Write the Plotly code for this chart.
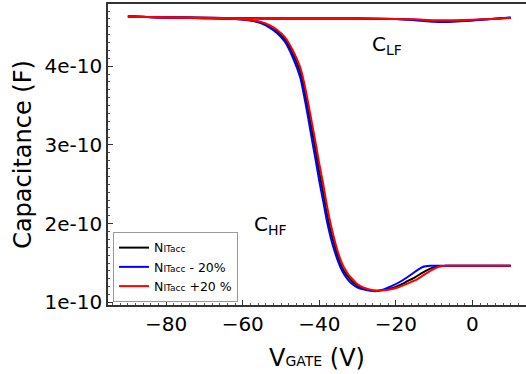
import plotly.graph_objects as go

# Gate voltage (V) and capacitance (units of 1e-10 F, scaled below)
x_hf = [-90, -80, -70, -62, -58, -55, -53, -51, -49, -47, -45, -44, -43, -42, -41, -40,
        -39, -38, -37, -36, -35, -34, -33, -32, -31, -30, -28, -26, -25, -23, -21, -19,
        -17, -15, -13, -11, -9, -7, -5, 0, 5, 10]
hf_nom = [4.63, 4.62, 4.61, 4.60, 4.585, 4.55, 4.50, 4.44, 4.34, 4.17, 3.93, 3.72, 3.47, 3.20,
          2.94, 2.65, 2.40, 2.12, 1.90, 1.72, 1.56, 1.44, 1.36, 1.30, 1.25, 1.21, 1.17, 1.15,
          1.148, 1.16, 1.18, 1.22, 1.27, 1.32, 1.38, 1.43, 1.46, 1.465, 1.465, 1.465, 1.465, 1.465]
hf_minus = [4.63, 4.62, 4.61, 4.60, 4.58, 4.54, 4.49, 4.42, 4.31, 4.12, 3.86, 3.63, 3.37, 3.09,
            2.82, 2.54, 2.29, 2.03, 1.82, 1.65, 1.51, 1.40, 1.32, 1.26, 1.22, 1.19, 1.16, 1.145,
            1.145, 1.17, 1.21, 1.26, 1.32, 1.39, 1.45, 1.465, 1.465, 1.465, 1.465, 1.465, 1.465, 1.465]
hf_plus = [4.63, 4.62, 4.61, 4.60, 4.588, 4.56, 4.52, 4.46, 4.37, 4.21, 3.99, 3.80, 3.56, 3.30,
           3.04, 2.76, 2.51, 2.23, 1.99, 1.79, 1.62, 1.49, 1.40, 1.33, 1.28, 1.23, 1.18, 1.155,
           1.15, 1.155, 1.17, 1.20, 1.24, 1.28, 1.34, 1.40, 1.45, 1.465, 1.465, 1.465, 1.465, 1.465]

x_lf = [-90, -80, -70, -60, -50, -40, -30, -20, -15, -10, -5, 0, 5, 10]
lf_nom = [4.63, 4.62, 4.615, 4.61, 4.605, 4.605, 4.605, 4.60, 4.59, 4.575, 4.575, 4.585, 4.60, 4.615]
lf_minus = [4.63, 4.62, 4.615, 4.61, 4.605, 4.605, 4.605, 4.60, 4.585, 4.565, 4.565, 4.58, 4.60, 4.62]
lf_plus = [4.63, 4.62, 4.615, 4.61, 4.605, 4.605, 4.605, 4.60, 4.595, 4.585, 4.585, 4.59, 4.60, 4.612]

series_names = ['N<span style="font-size:9px">ITacc</span>',
                'N<span style="font-size:9px">ITacc</span> - 20%',
                'N<span style="font-size:9px">ITacc</span> +20 %']
series_colors = ["#000000", "#0000ff", "#ff0000"]

y_tick_vals = [1, 2, 3, 4]
y_tick_text = ["1e-10", "2e-10", "3e-10", "4e-10"]
x_tick_vals = [-80, -60, -40, -20, 0]

scale = 1e-10
fig = go.Figure()
for name, color, hf, lf in zip(series_names, series_colors,
                               [hf_nom, hf_minus, hf_plus], [lf_nom, lf_minus, lf_plus]):
    fig.add_trace(go.Scatter(x=x_hf, y=[v * scale for v in hf], mode="lines", name=name,
                             line=dict(color=color, width=2, shape="spline", smoothing=0.6),
                             legendgroup=name))
    fig.add_trace(go.Scatter(x=x_lf, y=[v * scale for v in lf], mode="lines", name=name,
                             line=dict(color=color, width=2, shape="spline", smoothing=0.6),
                             legendgroup=name, showlegend=False))

fig.add_annotation(x=-22.3, y=4.27e-10, text="C<sub>LF</sub>", showarrow=False,
                   font=dict(size=20, color="black", family="DejaVu Sans"))
fig.add_annotation(x=-52.7, y=1.99e-10, text="C<sub>HF</sub>", showarrow=False,
                   font=dict(size=20, color="black", family="DejaVu Sans"))

fig.update_layout(
    width=526, height=374,
    margin=dict(l=108, r=0, t=4, b=69),
    paper_bgcolor="white", plot_bgcolor="white",
    font=dict(family="DejaVu Sans", size=20, color="black"),
    showlegend=True,
    legend=dict(x=0.012, y=0.01, xanchor="left", yanchor="bottom",
                bgcolor="white", bordercolor="#999999", borderwidth=1,
                font=dict(size=12.5, family="DejaVu Sans"), tracegroupgap=0,
                itemwidth=30),
    xaxis=dict(range=[-95.2, 14.0], tickvals=x_tick_vals, ticks="inside", ticklen=5,
               tickcolor="#333333", showline=True, linecolor="#333333", linewidth=1.5,
               mirror=True, showgrid=False, zeroline=False,
               minor=dict(dtick=2, ticks="inside", ticklen=2.5, tickcolor="#555555"),
               title=dict(text='V<span style="font-size:14px">GATE</span> (V)', standoff=14),
               tickfont=dict(size=20)),
    yaxis=dict(range=[0.968e-10, 4.79e-10], tickvals=[v * scale for v in y_tick_vals],
               ticktext=y_tick_text, ticks="inside", ticklen=5, tickcolor="#333333",
               showline=True, linecolor="#333333", linewidth=1.5, mirror=False,
               showgrid=False, zeroline=False,
               minor=dict(dtick=0.1e-10, ticks="inside", ticklen=2.5, tickcolor="#555555"),
               title=dict(text="Capacitance (F)", standoff=6),
               tickfont=dict(size=20)),
)

fig.write_html("out.html")
